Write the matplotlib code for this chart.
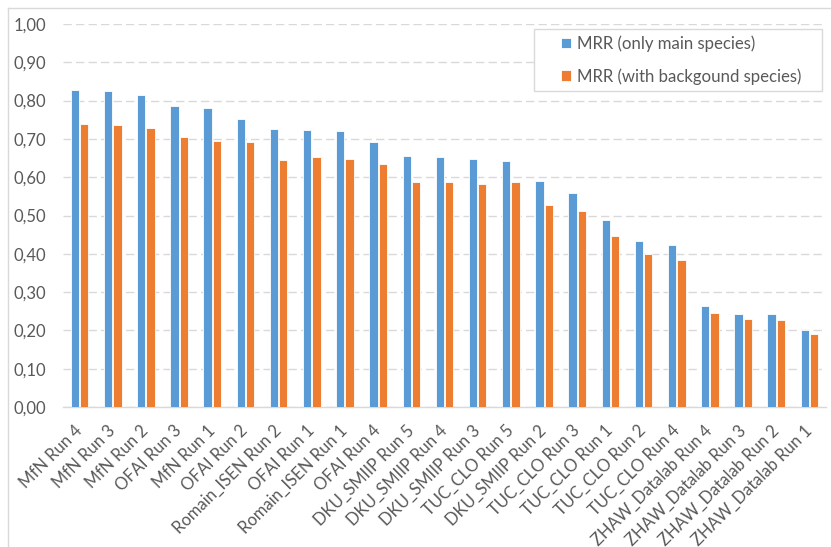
import numpy as np
from matplotlib import pyplot as plt
from matplotlib.lines import Line2D
from matplotlib.patches import Rectangle

runs = ['MfN Run 4', 'MfN Run 3', 'MfN Run 2', 'OFAI Run 3', 'MfN Run 1', 'OFAI Run 2',
        'Romain_ISEN Run 2', 'OFAI Run 1', 'Romain_ISEN Run 1', 'OFAI Run 4',
        'DKU_SMIIP Run 5', 'DKU_SMIIP Run 4', 'DKU_SMIIP Run 3', 'TUC_CLO Run 5',
        'DKU_SMIIP Run 2', 'TUC_CLO Run 3', 'TUC_CLO Run 1', 'TUC_CLO Run 2', 'TUC_CLO Run 4',
        'ZHAW_Datalab Run 4', 'ZHAW_Datalab Run 3', 'ZHAW_Datalab Run 2', 'ZHAW_Datalab Run 1']
mrr_main = [0.827, 0.824, 0.815, 0.785, 0.781, 0.751, 0.725, 0.724, 0.721, 0.693,
            0.655, 0.654, 0.647, 0.643, 0.589, 0.560, 0.487, 0.434, 0.424,
            0.264, 0.244, 0.244, 0.201]
mrr_bg = [0.740, 0.736, 0.728, 0.704, 0.695, 0.691, 0.644, 0.654, 0.647, 0.635,
          0.587, 0.587, 0.581, 0.587, 0.528, 0.511, 0.446, 0.399, 0.385,
          0.246, 0.229, 0.228, 0.191]
yticks = np.arange(0, 1.01, 0.1)

plt.rcParams['font.family'] = ['Lato', 'DejaVu Sans']

W, H = 831, 547
fig = plt.figure(figsize=(W / 100, H / 100), dpi=100)
ax = fig.add_axes([63 / W, 1 - 407 / H, (826 - 63) / W, (407 - 24) / H])

x = np.arange(len(runs))
bw = 0.25
ax.bar(x - 0.14, mrr_main, bw, color='#5B9BD5', edgecolor='white', linewidth=0.6,
       label='MRR (only main species)', zorder=3)
ax.bar(x + 0.14, mrr_bg, bw, color='#ED7D31', edgecolor='white', linewidth=0.6,
       label='MRR (with backgound species)', zorder=3)

ax.set_xlim(-0.5, len(runs) - 0.5)
ax.set_ylim(0, 1.0)
ax.set_yticks(yticks)
ax.set_yticklabels([f'{v:.2f}'.replace('.', ',') for v in yticks])
ax.yaxis.grid(True, color='#D9D9D9', linestyle=(0, (6, 3)), linewidth=1, zorder=0)
ax.set_axisbelow(True)

ax.set_xticks(x)
ax.set_xticklabels(runs, rotation=45, ha='right', va='center', rotation_mode='anchor')
ax.tick_params(axis='x', length=0, pad=15, labelsize=12, labelcolor='#595959')
ax.tick_params(axis='y', length=0, pad=12, labelsize=12, labelcolor='#595959')

for s in ['top', 'right', 'left']:
    ax.spines[s].set_visible(False)
ax.spines['bottom'].set_color('#D9D9D9')
ax.spines['bottom'].set_linewidth(1)

# legend box drawn separately so padding matches
box = Rectangle((534 / W, 1 - 91 / H), (822 - 534) / W, (91 - 29) / H,
                transform=fig.transFigure, facecolor='white',
                edgecolor='#D9D9D9', linewidth=1, zorder=4, clip_on=False)
ax.add_patch(box)
leg = ax.legend(loc='center left', bbox_to_anchor=(561 / W, 1 - 60 / H),
                bbox_transform=fig.transFigure, fontsize=12.1, frameon=False,
                handlelength=0.6, handleheight=0.6, labelspacing=0.95, borderpad=0,
                handletextpad=0.35, borderaxespad=0)
leg.set_zorder(5)
for t in leg.get_texts():
    t.set_color('#595959')

# outer chart border (left and top visible)
fig.add_artist(Line2D([7.5 / W, 7.5 / W], [0, 1 - 7.5 / H], color='#D9D9D9', linewidth=1,
                      transform=fig.transFigure))
fig.add_artist(Line2D([7.5 / W, 1], [1 - 7.5 / H, 1 - 7.5 / H], color='#D9D9D9', linewidth=1,
                      transform=fig.transFigure))

fig.savefig('out.png', dpi=100)
